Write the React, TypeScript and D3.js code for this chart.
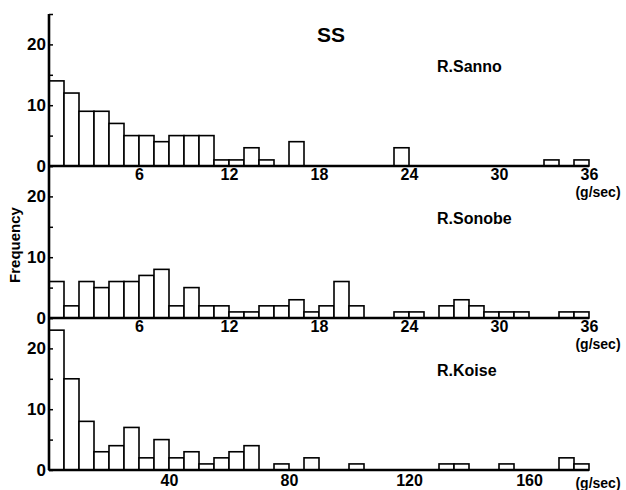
import React, { useEffect, useRef } from "react";
import * as d3 from "d3";

// frequency per bin (36 bins each)
const sanno = [14, 12, 9, 9, 7, 5, 5, 4, 5, 5, 5, 1, 1, 3, 1, 0, 4, 0, 0, 0, 0, 0, 0, 3, 0, 0, 0, 0, 0, 0, 0, 0, 0, 1, 0, 1];
const sonobe = [6, 2, 6, 5, 6, 6, 7, 8, 2, 5, 2, 2, 1, 1, 2, 2, 3, 1, 2, 6, 2, 0, 0, 1, 1, 0, 2, 3, 2, 1, 1, 1, 0, 0, 1, 1];
const koise = [23, 15, 8, 3, 4, 7, 2, 5, 2, 3, 1, 2, 3, 4, 0, 1, 0, 2, 0, 0, 1, 0, 0, 0, 0, 0, 1, 1, 0, 0, 1, 0, 0, 0, 2, 1];

const rivers = ["R.Sanno", "R.Sonobe", "R.Koise"];
const binWidths = [1, 1, 5]; // g/sec
const xMax = [36, 36, 180];
const xTicks = [
  [6, 12, 18, 24, 30, 36],
  [6, 12, 18, 24, 30, 36],
  [40, 80, 120, 160],
];
const yTicks = [0, 5, 10, 15, 20, 25];
const yLabels = [0, 10, 20];

const width = 626;
const height = 490;
const left = 49;
const right = 589;
const top = 14;
const panelH = 152;
const font = "'Liberation Sans', Arial, sans-serif";

const App = () => {
  const ref = useRef<SVGSVGElement>(null);

  useEffect(() => {
    const svg = d3.select(ref.current);
    svg.selectAll("*").remove();
    svg.attr("font-family", font);

    const series = [sanno, sonobe, koise];

    series.forEach((data, i) => {
      const y0 = top + (i + 1) * panelH;
      const x = d3.scaleLinear().domain([0, xMax[i]]).range([left, right]);
      const y = d3.scaleLinear().domain([0, 25]).range([y0, y0 - panelH]);
      const g = svg.append("g");

      // bars
      g.selectAll("rect")
        .data(data.map((v, k) => ({ v, k })).filter((d) => d.v > 0))
        .enter()
        .append("rect")
        .attr("x", (d) => x(d.k * binWidths[i]))
        .attr("y", (d) => y(d.v))
        .attr("width", x(binWidths[i]) - x(0))
        .attr("height", (d) => y0 - y(d.v))
        .attr("fill", "#fff")
        .attr("stroke", "#000")
        .attr("stroke-width", 1.6);

      // y axis ticks + labels
      const yAxis = d3
        .axisLeft(y)
        .tickValues(yTicks)
        .tickSize(-4)
        .tickPadding(3)
        .tickFormat((d) => (yLabels.includes(d as number) ? String(d) : ""));
      g.append("g")
        .attr("transform", `translate(${left},0)`)
        .call(yAxis)
        .call((a) => a.select(".domain").remove())
        .call((a) => a.selectAll("line").attr("stroke-width", 1.5))
        .call((a) =>
          a
            .selectAll("text")
            .attr("font-size", 17)
            .attr("font-weight", "bold")
            .attr("font-family", font)
        );

      // x axis labels
      const xAxis = d3
        .axisBottom(x)
        .tickValues(xTicks[i])
        .tickSize(0)
        .tickPadding(i < 2 ? 3 : 5);
      g.append("g")
        .attr("transform", `translate(0,${y0})`)
        .call(xAxis)
        .call((a) => a.select(".domain").remove())
        .call((a) =>
          a
            .selectAll("text")
            .attr("font-size", 16)
            .attr("font-weight", "bold")
            .attr("font-family", font)
        );

      // baseline
      g.append("line")
        .attr("x1", left)
        .attr("x2", right)
        .attr("y1", y0)
        .attr("y2", y0)
        .attr("stroke", "#000")
        .attr("stroke-width", 2.6);

      // unit label
      g.append("text")
        .attr("x", 598)
        .attr("y", i < 2 ? y0 + 31 : y0 + 18)
        .attr("text-anchor", "middle")
        .attr("font-size", 14)
        .attr("font-weight", "bold")
        .text("(g/sec)");

      // river name
      g.append("text")
        .attr("x", 437)
        .attr("y", y0 - panelH + 58)
        .attr("font-size", 16)
        .attr("font-weight", "bold")
        .text(rivers[i]);
    });

    // y axis line
    svg
      .append("line")
      .attr("x1", left)
      .attr("x2", left)
      .attr("y1", top)
      .attr("y2", top + 3 * panelH)
      .attr("stroke", "#000")
      .attr("stroke-width", 2.6);

    svg
      .append("text")
      .attr("x", 331)
      .attr("y", 42)
      .attr("text-anchor", "middle")
      .attr("font-size", 21)
      .attr("font-weight", "bold")
      .text("SS");

    svg
      .append("text")
      .attr("transform", "translate(20,245) rotate(-90)")
      .attr("text-anchor", "middle")
      .attr("font-size", 15)
      .attr("font-weight", "bold")
      .text("Frequency");
  }, []);

  return (
    <div style={{ position: "absolute", left: 0, top: 0 }}>
      <svg ref={ref} width={width} height={height} style={{ display: "block", background: "#fff" }} />
    </div>
  );
};

export default App;
